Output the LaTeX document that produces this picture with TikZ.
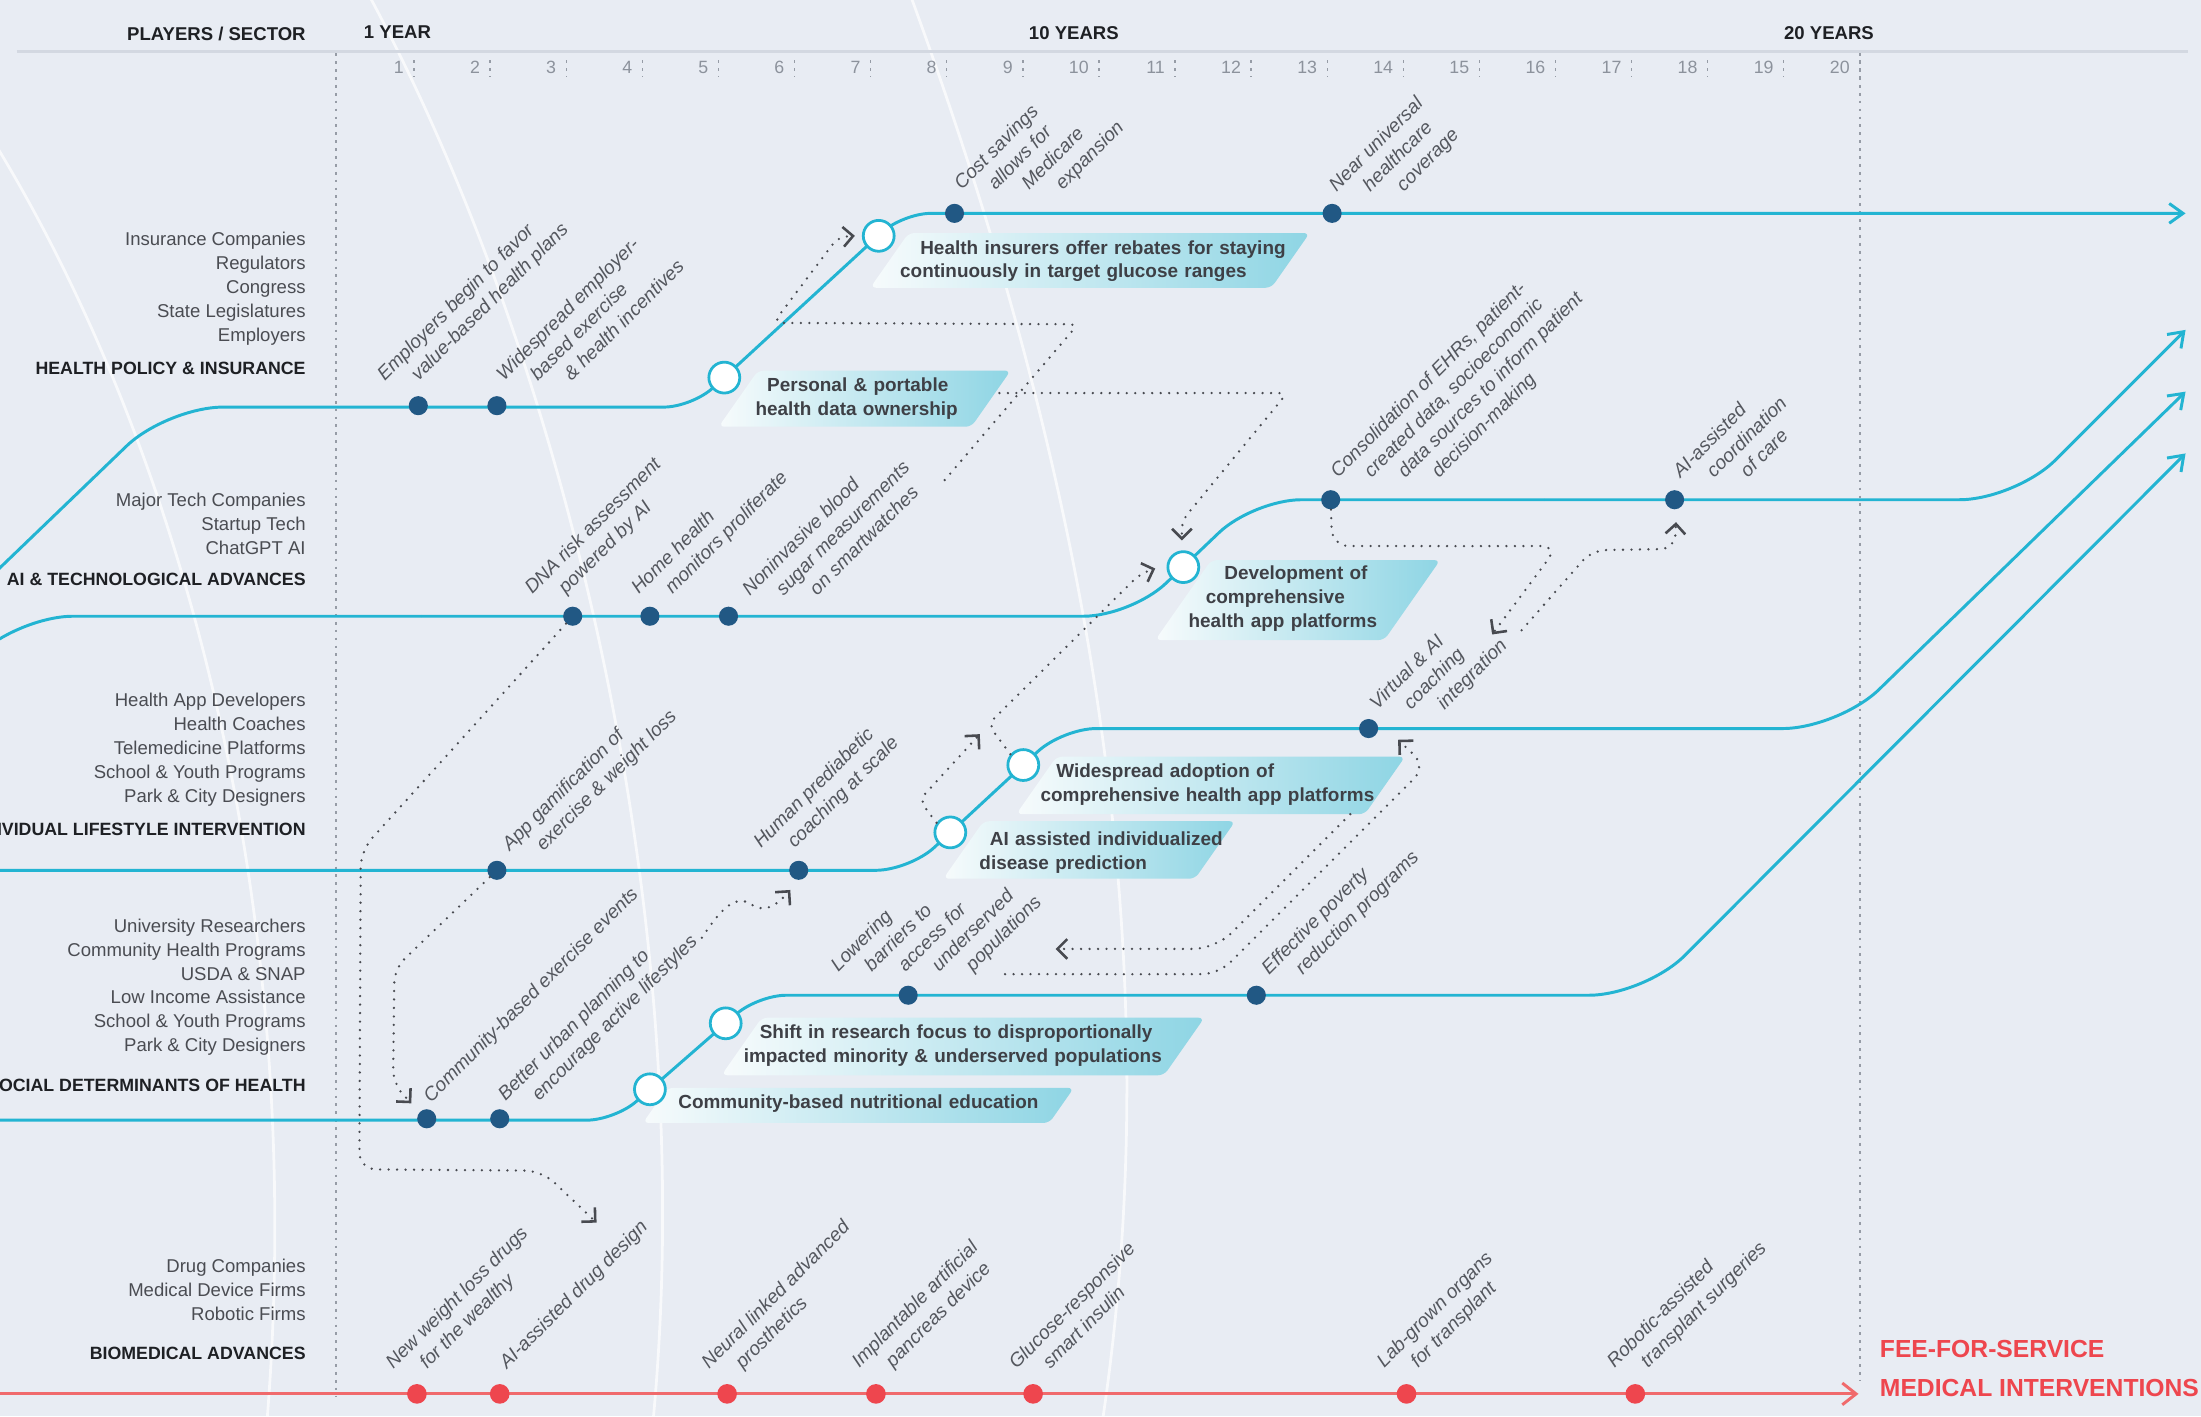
\documentclass[tikz,border=0pt]{standalone}
\usepackage{fontspec}
\setmainfont{Liberation Sans}
\usetikzlibrary{arrows.meta,calc}
\definecolor{paper}{RGB}{232,236,243}
\definecolor{trackcyan}{RGB}{35,180,210}
\definecolor{dotblue}{RGB}{33,88,132}
\definecolor{biored}{RGB}{238,70,78}
\definecolor{bioline}{RGB}{240,106,108}
\definecolor{inkgray}{RGB}{62,64,70}
\definecolor{taggray}{RGB}{84,87,94}
\definecolor{rolegray}{RGB}{74,76,82}
\definecolor{headink}{RGB}{30,32,36}
\definecolor{yeargray}{RGB}{140,146,156}
\definecolor{rulegray}{RGB}{211,216,225}
\definecolor{gridgray}{RGB}{150,156,166}
\definecolor{linkgray}{RGB}{72,74,80}
\definecolor{ribbonlo}{RGB}{247,251,252}
\definecolor{ribbonhi}{RGB}{142,213,228}

\tikzset{
  track/.style={line width=1.5pt,draw=trackcyan},
  biotrack/.style={line width=1.5pt,draw=bioline},
  milestone/.style={circle,fill=dotblue,inner sep=0pt,minimum size=3.4mm},
  redstone/.style={circle,fill=biored,inner sep=0pt,minimum size=3.5mm},
  hub/.style={circle,draw=trackcyan,line width=1.4pt,fill=white,inner sep=0pt,minimum size=5.5mm},
  ribbon/.style={left color=ribbonlo,right color=ribbonhi,rounded corners=3pt},
  note/.style={anchor=base west,align=left,text width=#1,inner sep=0pt,text=inkgray,
    font=\fontsize{9.6pt}{12.1pt}\selectfont\bfseries},
  tag/.style={rotate=45,anchor=base west,inner sep=0pt,text=taggray,
    font=\fontsize{9.7pt}{12pt}\selectfont\itshape},
  role/.style={anchor=base east,inner sep=0pt,text=rolegray,font=\fontsize{9.4pt}{12pt}\selectfont},
  sector/.style={anchor=base east,inner sep=0pt,text=headink,font=\fontsize{9pt}{11pt}\selectfont\bfseries},
  colhead/.style={inner sep=0pt,text=headink,font=\fontsize{9.4pt}{11pt}\selectfont\bfseries},
  yr/.style={anchor=base east,inner sep=0pt,text=yeargray,font=\fontsize{9pt}{11pt}\selectfont},
  gridline/.style={draw=gridgray,line width=0.7pt,dash pattern=on 1.4pt off 2.6pt},
  link/.style={draw=linkgray,line width=1.3pt,line cap=round,dash pattern=on 0pt off 4.3pt,->},
  fee/.style={anchor=base west,inner sep=0pt,text=biored,font=\fontsize{12.5pt}{14pt}\selectfont\bfseries},
  streak/.style={draw=white,line width=1.4pt,opacity=0.7}
}

% rotated milestone caption, one node per line, line starts on one level
\newcommand{\tagat}[3]{%
  \foreach \lbl [count=\k from 0] in {#3}
    \node[tag] (#1-\k) at ($(#2)+(24*\k,0)$) {\lbl};}

\begin{document}
\begin{tikzpicture}[x=0.025cm,y=-0.025cm,>={Straight Barb[length=5pt,width=10pt]}]
  \useasboundingbox (0,0) rectangle (1568,1009);
  \clip (0,0) rectangle (1568,1009);
  \fill[paper] (0,0) rectangle (1568,1009);
  % faint light streaks
  \draw[streak] (-5,100) .. controls (130,320) and (220,650) .. (190,1015);
  \draw[streak] (262,-5) .. controls (400,250) and (500,650) .. (465,1015);
  \draw[streak] (648,-5) .. controls (760,300) and (840,650) .. (785,1015);

  % column heads and year scale
  \node[colhead,anchor=base east] (hSector) at (218,28.5) {PLAYERS / SECTOR};
  \node[colhead,anchor=base west] (hOne) at (259,27.5) {1 YEAR};
  \node[colhead,anchor=base] (hTen) at (765,28) {10 YEARS};
  \node[colhead,anchor=base] (hTwenty) at (1303,28) {20 YEARS};
  \draw[rulegray,line width=1.5pt] (12,36.5) -- (1559,36.5);
  \foreach \n in {1,...,20} {
    \node[yr] (yr\n) at ({288+54.21*(\n-1)},52.7) {\n};
    \draw[gridline] ({295+54.21*(\n-1)},43) -- ++(0,12);
  }
  \draw[gridline] (239.5,38) -- (239.5,995);
  \draw[gridline] (1325,38) -- (1325,984);

  % players per sector
  \foreach \r [count=\k from 0] in {Insurance Companies,Regulators,Congress,State Legislatures,Employers}
    \node[role] (rPol\k) at (218,{175+17*\k}) {\r};
  \node[sector] (sPolicy) at (218,267) {HEALTH POLICY \& INSURANCE};
  \foreach \r [count=\k from 0] in {Major Tech Companies,Startup Tech,ChatGPT AI}
    \node[role] (rTech\k) at (218,{361+17*\k}) {\r};
  \node[sector] (sTech) at (218,417) {AI \& TECHNOLOGICAL ADVANCES};
  \foreach \r [count=\k from 0] in {Health App Developers,Health Coaches,Telemedicine Platforms,School \& Youth Programs,Park \& City Designers}
    \node[role] (rLife\k) at (218,{503.4+17*\k}) {\r};
  \node[sector] (sLife) at (218,595.3) {INDIVIDUAL LIFESTYLE INTERVENTION};
  \foreach \r [count=\k from 0] in {University Researchers,Community Health Programs,USDA \& SNAP,Low Income Assistance,School \& Youth Programs,Park \& City Designers}
    \node[role] (rSoc\k) at (218,{664.2+17*\k}) {\r};
  \node[sector] (sSoc) at (218,777.7) {SOCIAL DETERMINANTS OF HEALTH};
  \foreach \r [count=\k from 0] in {Drug Companies,Medical Device Firms,Robotic Firms}
    \node[role] (rBio\k) at (218,{906.6+17*\k}) {\r};
  \node[sector] (sBio) at (218,968.4) {BIOMEDICAL ADVANCES};

  % shaded caption ribbons: bottom-left x / top / bottom / top-right x
  \foreach \bx/\ty/\by/\tx in {512/264/304/720,620/166/205/933,823/399/456/1026,672/585/626/880,724/539/580/1001,514/725/766/858,458/775/800/765}
    \shade[ribbon] (\bx,\by) -- ({\bx+0.7*(\by-\ty)},\ty) -- (\tx,\ty) -- ({\tx-0.7*(\by-\ty)},\by) -- cycle;

  % tracks
  \draw[track,rounded corners=1cm] (-12,416) -- (119,290) -- (300,290);
  \draw[track,rounded corners=0.5cm,-{Straight Barb[length=7pt,width=10pt]}] (300,290) -- (493,290) -- (643,152) -- (1557,152);
  \draw[track,rounded corners=1cm] (-32,483) -- (12,439) -- (300,439);
  \draw[track,rounded corners=0.85cm] (300,439) -- (806,439) -- (893,356) -- (1100,356);
  \draw[track,rounded corners=1cm,-{Straight Barb[length=7pt,width=10pt]}] (1100,356) -- (1436,356) -- (1557,235);
  \draw[track,rounded corners=0.6cm] (-5,620) -- (648,620) -- (757,519) -- (1100,519);
  \draw[track,rounded corners=1cm,-{Straight Barb[length=7pt,width=10pt]}] (1100,519) -- (1310,519) -- (1557,279);
  \draw[track,rounded corners=0.5cm] (-5,798) -- (438,798) -- (540,709) -- (900,709);
  \draw[track,rounded corners=1cm,-{Straight Barb[length=7pt,width=10pt]}] (900,709) -- (1172,709) -- (1557,323);
  \draw[biotrack,-{Straight Barb[length=7pt,width=11pt]}] (-5,993) -- (1324,993);

  % health policy
  \node[milestone] (pEmp) at (298,289) {};
  \node[milestone] (pWide) at (354,289) {};
  \node[milestone] (pCost) at (680,152) {};
  \node[milestone] (pNear) at (949,152) {};
  \node[hub] (kData) at (516,269) {};
  \node[hub] (kRebate) at (626,168) {};
  % technology
  \node[milestone] (tDNA) at (408,439) {};
  \node[milestone] (tHome) at (463,439) {};
  \node[milestone] (tNon) at (519,439) {};
  \node[milestone] (tEHR) at (948,356) {};
  \node[milestone] (tCoord) at (1193,356) {};
  \node[hub] (kPlatform) at (843,404) {};
  % lifestyle
  \node[milestone] (lApp) at (354,620) {};
  \node[milestone] (lHuman) at (569,620) {};
  \node[milestone] (lVirt) at (975,519) {};
  \node[hub] (kPredict) at (677,593) {};
  \node[hub] (kAdopt) at (729,545) {};
  % social determinants
  \node[milestone] (sComm) at (304,797) {};
  \node[milestone] (sUrban) at (356,797) {};
  \node[milestone] (sLower) at (647,709) {};
  \node[milestone] (sPov) at (895,709) {};
  \node[hub] (kNutri) at (463,776) {};
  \node[hub] (kShift) at (517,729) {};
  % biomedical
  \node[redstone] (bWeight) at (297,993) {};
  \node[redstone] (bDrug) at (356,993) {};
  \node[redstone] (bNeural) at (518,993) {};
  \node[redstone] (bPanc) at (624,993) {};
  \node[redstone] (bInsulin) at (736,993) {};
  \node[redstone] (bOrgan) at (1002,993) {};
  \node[redstone] (bRobot) at (1165,993) {};

  % ribbon captions
  \node[note=3.9cm] (xData) at (538,279) {\hspace*{5.9pt}Personal \& portable\\health data ownership};
  \node[note=7.1cm] (xRebate) at (641,181) {\hspace*{10.2pt}Health insurers offer rebates for staying\\continuously in target glucose ranges};
  \node[note=3.8cm] (xPlatform) at (846.5,413) {\hspace*{18.1pt}Development of\\\hspace*{8.7pt}comprehensive\\health app platforms};
  \node[note=4.6cm] (xPredict) at (697.5,602.5) {\hspace*{5.3pt}AI assisted individualized\\disease prediction};
  \node[note=6.2cm] (xAdopt) at (741,554) {\hspace*{8pt}Widespread adoption of\\comprehensive health app platforms};
  \node[note=7.8cm] (xShift) at (529.6,739.7) {\hspace*{8.1pt}Shift in research focus to disproportionally\\impacted minority \& underserved populations};
  \node[note=6.8cm] (xNutri) at (483,789.6) {Community-based nutritional education};

  % milestone captions
  \tagat{gEmp}{274,272}{Employers begin to favor,value-based health plans}
  \tagat{gWide}{359,272}{Widespread employer-,based exercise,\& health incentives}
  \tagat{gCost}{685,136}{Cost savings,allows for,Medicare,expansion}
  \tagat{gNear}{952,137}{Near universal,healthcare,coverage}
  \tagat{gDNA}{379,424}{DNA risk assessment,powered by AI}
  \tagat{gHome}{455,424}{Home health,monitors proliferate}
  \tagat{gNon}{534,425}{Noninvasive blood,sugar measurements,on smartwatches}
  \tagat{gApp}{363,607}{App gamification of,exercise \& weight loss}
  \tagat{gHum}{542,605}{Human prediabetic,coaching at scale}
  \tagat{gVirt}{981,506}{Virtual \& AI,coaching,integration}
  \tagat{gEHR}{953,341}{{Consolidation of EHRs, patient-},{created data, socioeconomic},data sources to inform patient,decision-making}
  \tagat{gCoord}{1197,341}{AI-assisted,coordination,of care}
  \tagat{gComm}{307,786}{Community-based exercise events}
  \tagat{gUrb}{360,785}{Better urban planning to,encourage active lifestyles}
  \tagat{gLow}{597,693}{Lowering,barriers to,access for,underserved,populations}
  \tagat{gPov}{904,695}{Effective poverty,reduction programs}
  \tagat{gWt}{280,976}{New weight loss drugs,for the wealthy}
  \tagat{gDrug}{361,976}{AI-assisted drug design}
  \tagat{gNeur}{505,976}{Neural linked advanced,prosthetics}
  \tagat{gPanc}{612,975}{Implantable artificial,pancreas device}
  \tagat{gIns}{724,976}{Glucose-responsive,smart insulin}
  \tagat{gOrg}{986,975}{Lab-grown organs,for transplant}
  \tagat{gRob}{1150,975}{Robotic-assisted,transplant surgeries}

  \node[fee] (fFee) at (1339,967) {FEE-FOR-SERVICE};
  \node[fee] (fMed) at (1339,995) {MEDICAL INTERVENTIONS};

  % dotted influence links
  \coordinate (cNon) at (673,342);
  \coordinate (aRebate) at (609,168);
  \draw[link,rounded corners=0.15cm] (cNon) -- (768,231) -- (551,230) -- (597,169) -- (aRebate);
  \coordinate (cData) at (712,280);
  \coordinate (aPlatform) at (842,385);
  \draw[link,rounded corners=0.15cm] (cData) -- (917,280) -- (842,371) -- (aPlatform);
  \coordinate (aDrug) at (425,871);
  \draw[link,rounded corners=0.3cm] (tDNA) -- (257,606) -- (256,833) -- (386,834) -- (aDrug);
  \coordinate (aComm) at (293,786);
  \draw[link,rounded corners=0.25cm] (lApp) -- (281,690) -- (280,772) -- (aComm);
  \coordinate (cUrb) at (500,668);
  \coordinate (aHuman) at (563,634);
  \draw[link] (cUrb) .. controls (512,650) and (522,638) .. (533,643) .. controls (541,648) and (548,651) .. (aHuman);
  \coordinate (aPredict) at (698,523);
  \draw[link,rounded corners=0.15cm] (kPredict.145) -- (655,570) -- (aPredict);
  \coordinate (aDev) at (823,405);
  \draw[link,rounded corners=0.15cm] (kAdopt.140) -- (704,516) -- (812,409) -- (aDev);
  \coordinate (cAdopt) at (962,580);
  \coordinate (aLower) at (752,676);
  \draw[link,rounded corners=0.4cm] (cAdopt) -- (866,676) -- (aLower);
  \coordinate (cPop) at (716,694);
  \coordinate (aVirt) at (996,527);
  \draw[link,rounded corners=0.3cm] (cPop) -- (868,694) -- (1016,546) -- (aVirt);
  \coordinate (aInt) at (1063,452);
  \draw[link,rounded corners=0.3cm] (tEHR) -- (949,389) -- (1110,389) -- (aInt);
  \coordinate (cInt) at (1084,449);
  \coordinate (aCoord) at (1194,372);
  \draw[link,rounded corners=0.25cm] (cInt) -- (1134,392) -- (1193,391) -- (aCoord);
\end{tikzpicture}
\end{document}
